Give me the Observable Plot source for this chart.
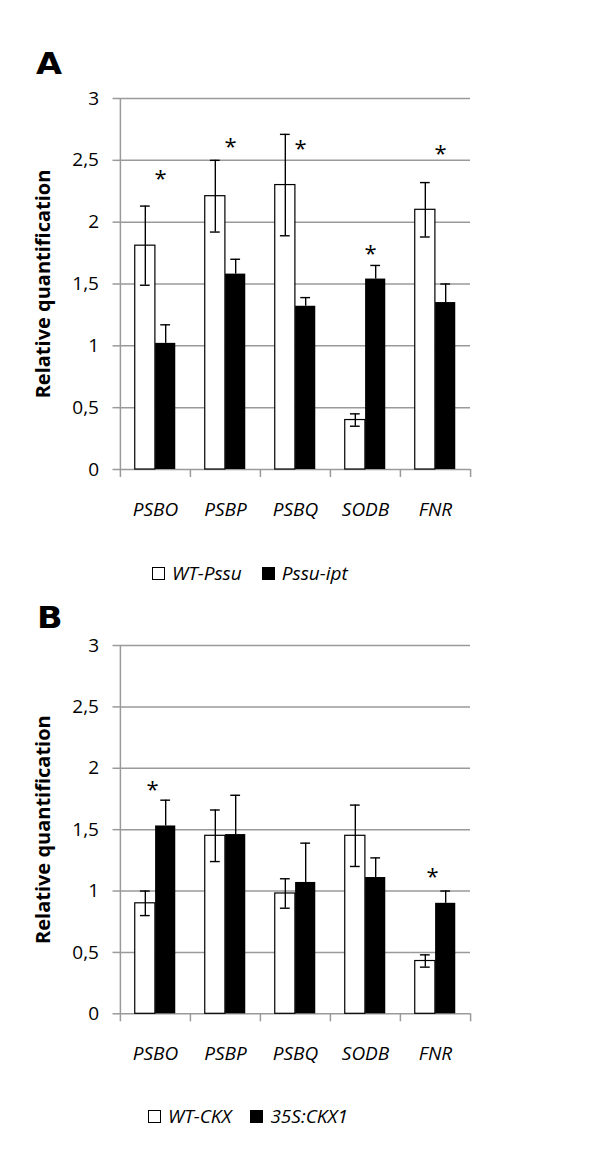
<!DOCTYPE html>
<html>
<head>
<meta charset="utf-8">
<script src="https://cdn.jsdelivr.net/npm/d3@7"></script>
<script src="https://cdn.jsdelivr.net/npm/@observablehq/plot@0.6"></script>
<style>
  html, body { margin: 0; padding: 0; background: #fff; }
  #page { position: relative; width: 600px; height: 1164px; font-family: "Open Sans", sans-serif; }
  .panel-letter { position: absolute; font-family: "DejaVu Sans", sans-serif; font-weight: bold; font-size: 30px; line-height: 1; color: #000; transform: scaleX(1.12); transform-origin: left top; }
  .chart { position: absolute; left: 0; }
  .legend { position: absolute; display: flex; align-items: center; font-style: italic; font-size: 19px; line-height: 1; color: #000; }
  .sw { display: inline-block; width: 11px; height: 11px; border: 1px solid #000; box-sizing: content-box; margin-right: 7px; }
</style>
</head>
<body>
<div id="page">
  <div class="panel-letter" style="left:36px; top:49px;">A</div>
  <div class="chart" id="chartA" style="top:80px;"></div>
  <div class="legend" style="left:152px; top:564px;">
    <span class="sw" style="background:#fff"></span><span>WT-Pssu</span>
    <span class="sw" style="background:#000; margin-left:20px"></span><span>Pssu-ipt</span>
  </div>
  <div class="panel-letter" style="left:37px; top:603px;">B</div>
  <div class="chart" id="chartB" style="top:627px;"></div>
  <div class="legend" style="left:148px; top:1107px;">
    <span class="sw" style="background:#fff"></span><span>WT-CKX</span>
    <span class="sw" style="background:#000; margin-left:19px"></span><span>35S:CKX1</span>
  </div>
</div>
<script>
// ---- data ----
const genes = ["PSBO", "PSBP", "PSBQ", "SODB", "FNR"];
const yTicks = [0, 0.5, 1, 1.5, 2, 2.5, 3];

// Panel A
const seriesA = ["WT-Pssu", "Pssu-ipt"];
const wtA   = [1.81, 2.21, 2.30, 0.40, 2.10];
const wtErrA = [0.32, 0.29, 0.41, 0.05, 0.22];
const mutA  = [1.02, 1.58, 1.32, 1.54, 1.35];
const mutErrA = [0.15, 0.12, 0.07, 0.11, 0.15];
const starGenesA = ["PSBO", "PSBP", "PSBQ", "SODB", "FNR"];
const starYA = [2.39, 2.65, 2.635, 1.785, 2.59];

// Panel B
const seriesB = ["WT-CKX", "35S:CKX1"];
const wtB   = [0.90, 1.45, 0.98, 1.45, 0.43];
const wtErrB = [0.10, 0.21, 0.12, 0.25, 0.05];
const mutB  = [1.53, 1.46, 1.07, 1.11, 0.90];
const mutErrB = [0.21, 0.32, 0.32, 0.16, 0.10];
const starGenesB = ["PSBO", "FNR"];
const starYB = [1.867, 1.153];

const fmt = d => String(d).replace(".", ",");

function buildRows(vals, errs, series) {
  return genes.map((g, i) => ({gene: g, series, value: vals[i], lo: vals[i] - errs[i], hi: vals[i] + errs[i]}));
}

function makeChart({wt, wtErr, mut, mutErr, series, starGenes, starY, marginBottom, starDx}) {
  const W = 600, ML = 119, MR = 130, MT = 18, H = 450;
  const step = (W - ML - MR) / genes.length;
  const barW = step * 0.29;
  const side = (step - 2 * barW) / 2;
  const capInset = (step - 10) / 2;
  const plotH = H - MT - marginBottom;
  const wtRows = buildRows(wt, wtErr, series[0]);
  const mutRows = buildRows(mut, mutErr, series[1]);
  const stars = starGenes.map((g, i) => ({gene: g, y: starY[i]}));
  const gray = "#9a9a9a";
  return Plot.plot({
    width: W, height: H,
    marginLeft: ML, marginRight: MR, marginTop: MT, marginBottom,
    style: {fontFamily: "'Open Sans', sans-serif", fontSize: "19px", color: "#000", background: "transparent", overflow: "visible"},
    x: {domain: genes, padding: 0, axis: null},
    y: {domain: [0, 3], axis: null},
    marks: [
      Plot.ruleY(yTicks, {y: d => d, stroke: gray, strokeWidth: 1.5}),
      Plot.axisY({ticks: yTicks, tickSize: 6.5, tickPadding: 14, tickFormat: fmt, stroke: gray, strokeWidth: 1.5, label: null, fontSize: 19}),
      // y axis line
      Plot.ruleX(genes.slice(0, 1), {x: d => d, dx: -step / 2, stroke: gray, strokeWidth: 1.5}),
      // category boundary ticks below axis
      Plot.ruleX(genes, {x: d => d, dx: -step / 2, insetTop: plotH, insetBottom: -8, stroke: gray, strokeWidth: 1.5}),
      Plot.ruleX(genes.slice(-1), {x: d => d, dx: step / 2, insetTop: plotH, insetBottom: -8, stroke: gray, strokeWidth: 1.5}),
      // bars
      Plot.barY(wtRows, {x: "gene", y: "value", fill: "#fff", stroke: "#000", strokeWidth: 1.2, insetLeft: side, insetRight: side + barW}),
      Plot.barY(mutRows, {x: "gene", y: "value", fill: "#000", insetLeft: side + barW, insetRight: side}),
      // error bars
      Plot.ruleX(wtRows, {x: "gene", y1: "lo", y2: "hi", dx: -barW / 2, stroke: "#000", strokeWidth: 1.4}),
      Plot.tickY(wtRows, {x: "gene", y: "hi", dx: -barW / 2, insetLeft: capInset, insetRight: capInset, stroke: "#000", strokeWidth: 1.4}),
      Plot.tickY(wtRows, {x: "gene", y: "lo", dx: -barW / 2, insetLeft: capInset, insetRight: capInset, stroke: "#000", strokeWidth: 1.4}),
      Plot.ruleX(mutRows, {x: "gene", y1: "value", y2: "hi", dx: barW / 2, stroke: "#000", strokeWidth: 1.4}),
      Plot.tickY(mutRows, {x: "gene", y: "hi", dx: barW / 2, insetLeft: capInset, insetRight: capInset, stroke: "#000", strokeWidth: 1.4}),
      // significance stars
      Plot.text(stars, {x: "gene", y: "y", text: () => "*", dx: starDx, dy: 5, fontSize: 22, fill: "#000"}),
      // category labels
      Plot.text(genes, {x: d => d, frameAnchor: "bottom", lineAnchor: "middle", dy: 40, fontStyle: "italic", fontSize: 19, fill: "#000"}),
      // y label
      Plot.text(["Relative quantification"], {frameAnchor: "left", textAnchor: "middle", lineAnchor: "middle", rotate: -90, dx: -76, fontWeight: "bold", fontSize: 20, fill: "#000"})
    ]
  });
}

document.getElementById("chartA").append(makeChart({
  wt: wtA, wtErr: wtErrA, mut: mutA, mutErr: mutErrA, series: seriesA,
  starGenes: starGenesA, starY: starYA, marginBottom: 61, starDx: 5
}));
document.getElementById("chartB").append(makeChart({
  wt: wtB, wtErr: wtErrB, mut: mutB, mutErr: mutErrB, series: seriesB,
  starGenes: starGenesB, starY: starYB, marginBottom: 63.7, starDx: -3
}));
</script>
</body>
</html>
